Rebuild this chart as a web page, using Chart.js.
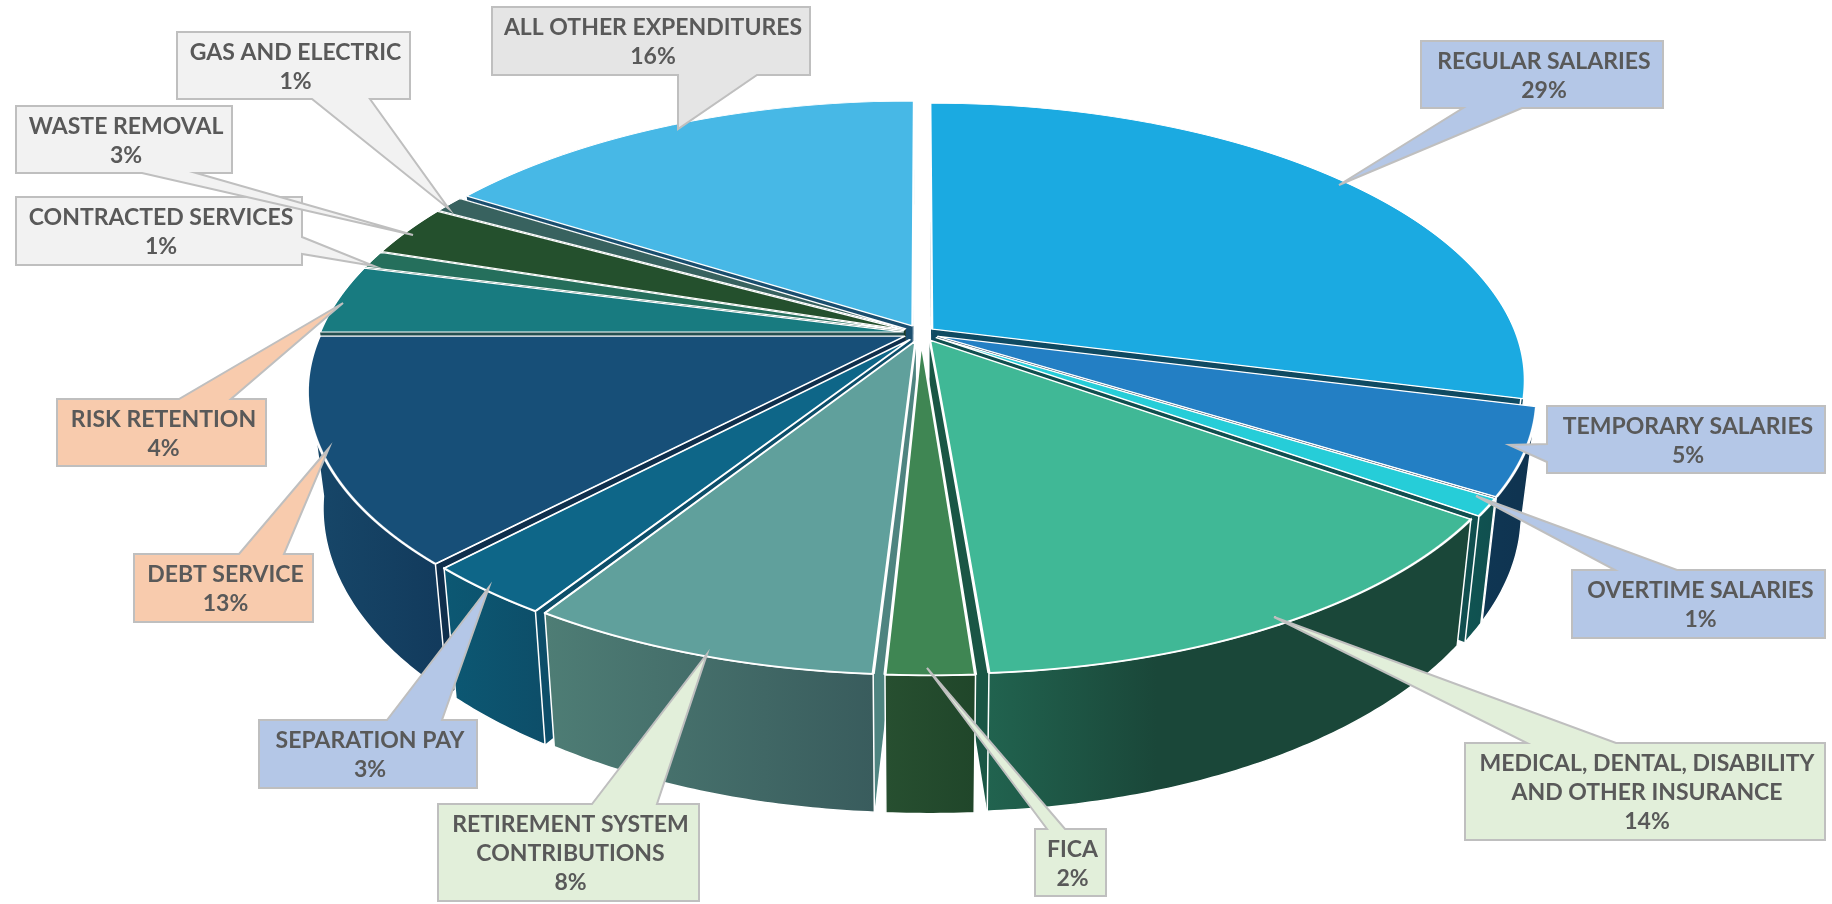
<!DOCTYPE html>
<html>
<head>
<meta charset="utf-8">
<style>
  html, body { margin: 0; padding: 0; background: #fff; }
  canvas { display: block; }
</style>
<script src="https://cdn.jsdelivr.net/npm/chart.js@4"></script>
</head>
<body>
<canvas id="budget" width="1832" height="904"></canvas>
<script>
// Expenditure categories, clockwise from twelve o'clock
const categories = [
  'REGULAR SALARIES', 'TEMPORARY SALARIES', 'OVERTIME SALARIES',
  'MEDICAL, DENTAL, DISABILITY AND OTHER INSURANCE', 'FICA',
  'RETIREMENT SYSTEM CONTRIBUTIONS', 'SEPARATION PAY', 'DEBT SERVICE',
  'RISK RETENTION', 'CONTRACTED SERVICES', 'WASTE REMOVAL',
  'GAS AND ELECTRIC', 'ALL OTHER EXPENDITURES'
];
const shares = [29, 5, 1, 14, 2, 8, 3, 13, 4, 1, 3, 1, 16];

// Slice colours: top face, outer rim gradient (left to right), radial cut
const topColors = ['#1BAAE1', '#237FC4', '#26CDD8', '#40B896', '#3F8653', '#60A09C', '#0E6688',
                   '#174F78', '#187B80', '#256F5C', '#24502D', '#38625F', '#47B8E6'];
const rimFrom = ['#0F4A62', '#0F3653', '#105452', '#21634F', '#274F30', '#4E7D75', '#0C5873',
                 '#174769', '#105055', '#184A3D', '#18361E', '#25413F', '#2F7A99'];
const rimTo = ['#0F4A62', '#0F3350', '#104F4F', '#1A4739', '#20462A', '#395C5D', '#0D4E69',
               '#123A5C', '#105055', '#184A3D', '#18361E', '#25413F', '#2F7A99'];
const rimStops = [1, 1, 1, 0.35, 1, 1, 1, 1, 1, 1, 1, 1, 1];
const cutColors = ['#0F4A62', '#0F3350', '#104F4F', '#1A5645', '#20462A', '#4E8480', '#0D4E69',
                   '#0F2F4C', '#244F50', '#184A3D', '#18361E', '#25413F', '#1A4E6E'];
// Per-slice pull-out from the centre, and sideways lean of the near half in pixels
const explodeBy = [0.024, 0.03, 0.03, 0.03, 0.03, 0.03, 0.03, 0.03, 0.03, 0.03, 0.03, 0.03, 0.03];
const leanBy = [0, 16, 16, 12, 9, 4, 0, -5, 0, 0, 0, 0, 0];

// Callout styling and placement: box [x, y, w, h], wedge tip [x, y], wedge side and base span
const calloutFills = ['#B4C7E7', '#B4C7E7', '#B4C7E7', '#E2EFDA', '#E2EFDA', '#E2EFDA', '#B4C7E7',
                      '#F8CBAD', '#F8CBAD', '#F2F2F2', '#F2F2F2', '#F2F2F2', '#E5E5E5'];
const calloutLines = [
  ['REGULAR SALARIES'], ['TEMPORARY SALARIES'], ['OVERTIME SALARIES'],
  ['MEDICAL, DENTAL, DISABILITY', 'AND OTHER INSURANCE'], ['FICA'],
  ['RETIREMENT SYSTEM', 'CONTRIBUTIONS'], ['SEPARATION PAY'], ['DEBT SERVICE'],
  ['RISK RETENTION'], ['CONTRACTED SERVICES'], ['WASTE REMOVAL'],
  ['GAS AND ELECTRIC'], ['ALL OTHER EXPENDITURES']
];
const calloutBoxes = [
  [1421, 41, 242, 67], [1547, 406, 278, 67], [1572, 570, 253, 68],
  [1465, 743, 360, 97], [1035, 829, 71, 67], [438, 804, 261, 97],
  [259, 720, 218, 68], [134, 554, 179, 68], [57, 399, 209, 67],
  [16, 197, 286, 68], [16, 106, 216, 67], [177, 32, 233, 67], [492, 7, 318, 68]
];
const calloutTips = [
  [1339, 185], [1509, 445], [1476, 496], [1274, 617], [927, 668], [707, 654],
  [489, 587], [329, 448], [343, 303], [374, 266], [413, 235], [449, 209], [678, 129]
];
const calloutBases = [
  ['bottom', 1463, 1522], ['left', 444, 462], ['top', 1615, 1677], ['top', 1527, 1616],
  ['top', 1047, 1065], ['top', 592, 657], ['top', 387, 442], ['top', 239, 284],
  ['top', 179, 231], ['right', 237, 254], ['bottom', 142, 196], ['bottom', 312, 370],
  ['bottom', 678, 757]
];

// Perspective of the tilted disc: screen centre, axis scales, foreshortening, extrusion
const CX = 921, CY = 333, SX = 584, SY = 269, PERSP = 0.185, DEPTH = 112, BASE_SHRINK = 0.975;

function project(u, v, lean) {
  const w = 1 - PERSP * v;
  return { x: CX + SX * u / w + lean * Math.max(v, 0), y: CY + SY * v / w };
}
function lower(u, v, lean) {
  const p = project(u, v, lean);
  return { x: CX + (p.x - CX) * BASE_SHRINK, y: p.y + DEPTH / (1 - PERSP * v) };
}
function midAngle(arc) { return (arc.startAngle + arc.endAngle) / 2; }
function rimPoint(arc, a, e) {
  const m = midAngle(arc);
  return [Math.cos(a) + e * Math.cos(m), Math.sin(a) + e * Math.sin(m)];
}
function apexPoint(arc, e) {
  const m = midAngle(arc);
  return [e * Math.cos(m), e * Math.sin(m)];
}
function tracePolygon(ctx, pts) {
  ctx.beginPath();
  pts.forEach((p, i) => i ? ctx.lineTo(p.x, p.y) : ctx.moveTo(p.x, p.y));
  ctx.closePath();
}

// Radial cut faces and the outer rim of one slice
function drawSliceSides(ctx, arc, i) {
  const e = explodeBy[i], L = leanBy[i];
  const apex = apexPoint(arc, e);
  [arc.startAngle, arc.endAngle].forEach(a => {
    const r = rimPoint(arc, a, e);
    tracePolygon(ctx, [project(...apex, L), project(...r, L), lower(...r, L), lower(...apex, L)]);
    ctx.fillStyle = cutColors[i];
    ctx.fill();
  });
  const top = [], bottom = [];
  const steps = Math.max(8, Math.ceil((arc.endAngle - arc.startAngle) / 0.01));
  for (let s = 0; s <= steps; s++) {
    const a = arc.startAngle + (arc.endAngle - arc.startAngle) * s / steps;
    if (Math.sin(a) < 0.15) continue;
    const r = rimPoint(arc, a, e);
    top.push(project(...r, L));
    bottom.push(lower(...r, L));
  }
  if (top.length < 2) return;
  const poly = top.concat(bottom.reverse());
  const xs = poly.map(p => p.x);
  const grad = ctx.createLinearGradient(Math.min(...xs), 0, Math.max(...xs), 0);
  grad.addColorStop(0, rimFrom[i]);
  grad.addColorStop(rimStops[i], rimTo[i]);
  if (rimStops[i] < 1) grad.addColorStop(1, rimTo[i]);
  tracePolygon(ctx, poly);
  ctx.fillStyle = grad;
  ctx.fill();
  ctx.strokeStyle = '#fff';
  ctx.lineWidth = 1.5;
  ctx.stroke();
}

// Top face: the library's arc element, redrawn row by row under the perspective scale
function drawSliceTop(ctx, arc, i) {
  const R = arc.outerRadius;
  const e = explodeBy[i], L = leanBy[i];
  const m = midAngle(arc);
  const ys = [project(...apexPoint(arc, e), L).y];
  for (let s = 0; s <= 60; s++) {
    const a = arc.startAngle + (arc.endAngle - arc.startAngle) * s / 60;
    ys.push(project(...rimPoint(arc, a, e), L).y);
  }
  const y0 = Math.floor(Math.min(...ys)) - 3, y1 = Math.ceil(Math.max(...ys)) + 3;
  for (let row = y0; row <= y1; row++) {
    const yc = row + 0.5, dy = yc - CY;
    const v0 = dy / (SY + PERSP * dy), w0 = 1 - PERSP * v0;
    const a = SX / w0 / R, d = SY / (w0 * w0) / R;
    ctx.save();
    ctx.beginPath();
    ctx.rect(0, row, ctx.canvas.width, 1);
    ctx.clip();
    ctx.setTransform(a, 0, 0, d, CX + L * Math.max(v0, 0) - a * arc.x, yc - d * (arc.y + v0 * R));
    ctx.translate(e * R * Math.cos(m), e * R * Math.sin(m));
    arc.draw(ctx);
    ctx.restore();
  }
}

const tiltedPie = {
  id: 'tiltedPie',
  beforeDatasetDraw(chart, args) {
    const ctx = chart.ctx;
    const arcs = args.meta.data;
    const order = arcs.map((arc, i) => i).sort((p, q) => Math.sin(midAngle(arcs[p])) - Math.sin(midAngle(arcs[q])));
    ctx.save();
    order.forEach(i => drawSliceSides(ctx, arcs[i], i));
    ctx.restore();
    arcs.forEach((arc, i) => drawSliceTop(ctx, arc, i));
    return false;
  }
};

function calloutOutline(ctx, box, tip, base) {
  const [x, y, w, h] = box;
  const [side, p, q] = base;
  ctx.beginPath();
  ctx.moveTo(x, y);
  if (side === 'top') { ctx.lineTo(p, y); ctx.lineTo(tip[0], tip[1]); ctx.lineTo(q, y); }
  ctx.lineTo(x + w, y);
  if (side === 'right') { ctx.lineTo(x + w, p); ctx.lineTo(tip[0], tip[1]); ctx.lineTo(x + w, q); }
  ctx.lineTo(x + w, y + h);
  if (side === 'bottom') { ctx.lineTo(q, y + h); ctx.lineTo(tip[0], tip[1]); ctx.lineTo(p, y + h); }
  ctx.lineTo(x, y + h);
  if (side === 'left') { ctx.lineTo(x, q); ctx.lineTo(tip[0], tip[1]); ctx.lineTo(x, p); }
  ctx.closePath();
}

const sliceCallouts = {
  id: 'sliceCallouts',
  afterDatasetsDraw(chart) {
    const ctx = chart.ctx;
    ctx.save();
    ctx.setTransform(1, 0, 0, 1, 0, 0);
    categories.forEach((name, i) => {
      const box = calloutBoxes[i];
      calloutOutline(ctx, box, calloutTips[i], calloutBases[i]);
      ctx.fillStyle = calloutFills[i];
      ctx.fill();
      ctx.strokeStyle = '#BFBFBF';
      ctx.lineWidth = 2;
      ctx.lineJoin = 'miter';
      ctx.stroke();
      ctx.fillStyle = '#595959';
      ctx.font = 'bold 23px Lato';
      ctx.textAlign = 'center';
      ctx.textBaseline = 'alphabetic';
      const lines = calloutLines[i].concat(shares[i] + '%');
      const cx = box[0] + box[2] / 2 + 2;
      lines.forEach((line, k) => ctx.fillText(line, cx, box[1] + 28 + k * 29));
    });
    ctx.restore();
  }
};

new Chart(document.getElementById('budget'), {
  type: 'pie',
  data: {
    labels: categories,
    datasets: [{
      data: shares,
      backgroundColor: topColors,
      borderColor: '#FFFFFF',
      borderWidth: 2,
      hoverOffset: 0
    }]
  },
  options: {
    responsive: false,
    animation: false,
    events: [],
    layout: { padding: 0 },
    plugins: { legend: { display: false }, tooltip: { enabled: false } }
  },
  plugins: [tiltedPie, sliceCallouts]
});
</script>
</body>
</html>
